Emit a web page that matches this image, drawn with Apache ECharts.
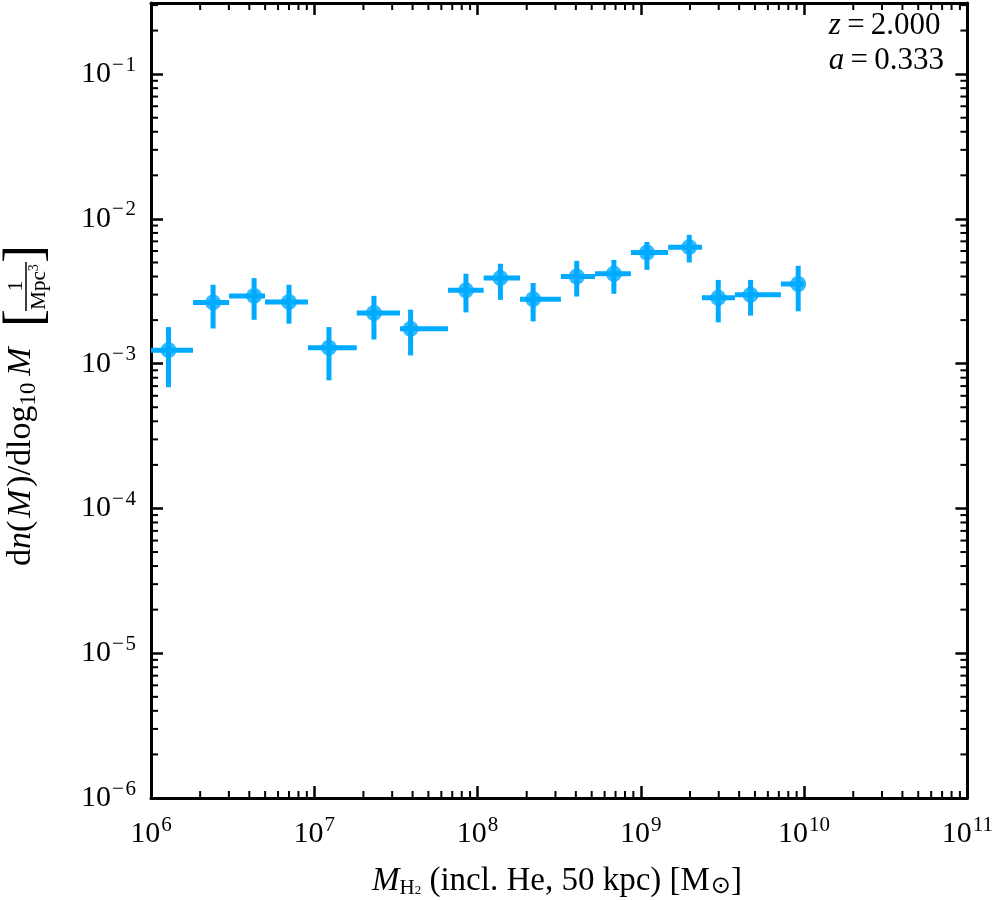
<!DOCTYPE html>
<html>
<head>
<meta charset="utf-8">
<script src="https://cdn.jsdelivr.net/npm/echarts@6/dist/echarts.min.js"></script>
<style>
html, body { margin: 0; padding: 0; background: #fff; }
#chart { width: 996px; height: 900px; }
</style>
</head>
<body>
<div id="chart"></div>
<script>
// molecular gas mass function, z = 2
// mass of each point (Msun) and the edges of its bin
let massMid = [1.28e6, 2.40e6, 4.28e6, 7.00e6, 1.23e7, 2.32e7, 3.89e7, 8.49e7, 1.38e8,
               2.19e8, 4.05e8, 6.84e8, 1.09e9, 1.98e9, 2.98e9, 4.70e9, 9.20e9];
let binEdges = [1.00e6, 1.81e6, 3.01e6, 4.99e6, 9.14e6, 1.82e7, 3.35e7, 6.59e7, 1.09e8,
                1.82e8, 3.24e8, 5.24e8, 8.69e8, 1.47e9, 2.37e9, 3.77e9, 7.21e9, 1.00e10];
// dn/dlog10 M [1/Mpc^3] with lower / upper error
let phi   = [1.24e-3, 2.65e-3, 2.94e-3, 2.67e-3, 1.29e-3, 2.24e-3, 1.74e-3, 3.21e-3, 3.90e-3,
             2.79e-3, 4.00e-3, 4.18e-3, 5.86e-3, 6.38e-3, 2.85e-3, 2.99e-3, 3.55e-3];
let phiLo = [6.87e-4, 1.75e-3, 2.01e-3, 1.89e-3, 7.67e-4, 1.47e-3, 1.14e-3, 2.26e-3, 2.76e-3,
             1.96e-3, 2.91e-3, 3.04e-3, 4.45e-3, 5.00e-3, 1.93e-3, 2.15e-3, 2.30e-3];
let phiHi = [1.79e-3, 3.51e-3, 3.90e-3, 3.51e-3, 1.79e-3, 2.94e-3, 2.36e-3, 4.18e-3, 4.90e-3,
             3.61e-3, 5.13e-3, 5.21e-3, 6.93e-3, 7.76e-3, 3.79e-3, 3.79e-3, 4.74e-3];

let xDecades = [6, 7, 8, 9, 10];
let yDecades = [-6, -5, -4, -3, -2, -1];
let minorMult = [2, 3, 4, 5, 6, 7, 8, 9];

let xMin = 1e6, xMax = 1e11, yMin = 1e-6, yMax = 0.31;
let blue = '#00aaff';
let serif = '"Liberation Serif", "DejaVu Serif", serif';

let errData = massMid.map(function (m, i) {
    return [m, phi[i], binEdges[i], binEdges[i + 1], phiLo[i], phiHi[i]];
});
let pointData = massMid.map(function (m, i) { return [m, phi[i]]; });

let xMinor = [];
xDecades.forEach(function (d) {
    minorMult.forEach(function (k) { xMinor.push([k * Math.pow(10, d), yMin]); });
});
let yMinor = [];
yDecades.forEach(function (d) {
    minorMult.forEach(function (k) {
        let v = k * Math.pow(10, d);
        if (v < yMax) yMinor.push([xMin, v]);
    });
});

function powLabel(v) {
    let lg = Math.log10(v);
    let p = Math.round(lg);
    if (Math.abs(lg - p) > 1e-6) return '';
    return '{b|10}{e|' + (p < 0 ? '\u2212\u200a' + (-p) : p) + '}';
}

let labelRich = {
    b: { fontSize: 30, fontFamily: serif, color: '#000' },
    e: { fontSize: 21, fontFamily: serif, color: '#000', padding: [0, 0, 18, 1] }
};

function makeAxis(pos, min, max, showLabel, margin) {
    return {
        type: 'log',
        logBase: 10,
        position: pos,
        min: min,
        max: max,
        splitNumber: 6,
        axisLine: { show: true, onZero: false, lineStyle: { color: '#000', width: 3 } },
        axisTick: { show: true, inside: true, length: 12, lineStyle: { color: '#000', width: 2.5 } },
        splitLine: { show: false },
        axisLabel: {
            show: showLabel,
            formatter: powLabel,
            rich: labelRich,
            margin: margin
        }
    };
}

function renderErr(params, api) {
    let y = api.value(1);
    let xc = api.value(0);
    let l = api.coord([api.value(2), y]);
    let r = api.coord([api.value(3), y]);
    let b = api.coord([xc, api.value(4)]);
    let t = api.coord([xc, api.value(5)]);
    let st = { stroke: blue, lineWidth: 5, lineCap: 'butt' };
    return {
        type: 'group',
        children: [
            { type: 'line', shape: { x1: l[0], y1: l[1], x2: r[0], y2: r[1] }, style: st },
            { type: 'line', shape: { x1: b[0], y1: b[1], x2: t[0], y2: t[1] }, style: st }
        ]
    };
}

// minor ticks on all four sides of the frame
function renderXMinor(params, api) {
    let p = api.coord([api.value(0), api.value(1)]);
    let cs = params.coordSys;
    let st = { stroke: '#000', lineWidth: 2 };
    return {
        type: 'group',
        children: [
            { type: 'line', shape: { x1: p[0], y1: cs.y + cs.height, x2: p[0], y2: cs.y + cs.height - 7 }, style: st },
            { type: 'line', shape: { x1: p[0], y1: cs.y, x2: p[0], y2: cs.y + 7 }, style: st }
        ]
    };
}
function renderYMinor(params, api) {
    let p = api.coord([api.value(0), api.value(1)]);
    let cs = params.coordSys;
    let st = { stroke: '#000', lineWidth: 2 };
    return {
        type: 'group',
        children: [
            { type: 'line', shape: { x1: cs.x, y1: p[1], x2: cs.x + 7, y2: p[1] }, style: st },
            { type: 'line', shape: { x1: cs.x + cs.width, y1: p[1], x2: cs.x + cs.width - 7, y2: p[1] }, style: st }
        ]
    };
}

let chart = echarts.init(document.getElementById('chart'));

let option = {
    animation: false,
    backgroundColor: '#fff',
    grid: { left: 151, right: 28, top: 3, bottom: 102, containLabel: false },
    xAxis: [makeAxis('bottom', xMin, xMax, true, 17), makeAxis('top', xMin, xMax, false, 8)],
    yAxis: [makeAxis('left', yMin, yMax, true, 15), makeAxis('right', yMin, yMax, false, 8)],
    series: [
        { type: 'custom', renderItem: renderXMinor, data: xMinor, clip: false, silent: true, z: 1 },
        { type: 'custom', renderItem: renderYMinor, data: yMinor, clip: false, silent: true, z: 1 },
        { type: 'custom', renderItem: renderErr, data: errData, encode: { x: 0, y: 1 }, z: 3 },
        {
            type: 'scatter', data: pointData, symbol: 'circle', symbolSize: 16,
            itemStyle: { color: blue }, z: 4
        }
    ],
    graphic: [
        {
            type: 'text', right: 52, top: 10,
            style: {
                text: '{i|z}{n|\u2009=\u20092.000}\n{i|a}{n|\u2009=\u20090.333}',
                align: 'right',
                rich: {
                    i: { fontSize: 31, fontFamily: serif, fontStyle: 'italic', lineHeight: 35 },
                    n: { fontSize: 31, fontFamily: serif, lineHeight: 35 }
                }
            }
        },
        {
            type: 'text', x: 557, y: 881,
            style: {
                text: '{i|M}{s|H}{ss|2}{n| (incl. He, 50 kpc) [M}{o|\u2299}{n|]}',
                align: 'center', verticalAlign: 'middle',
                rich: {
                    i: { fontSize: 33, fontFamily: serif, fontStyle: 'italic' },
                    n: { fontSize: 33, fontFamily: serif },
                    s: { fontSize: 21, fontFamily: serif, padding: [14, 0, 0, 0] },
                    ss: { fontSize: 13, fontFamily: serif, padding: [20, 0, 0, 0] },
                    o: { fontSize: 24, fontFamily: '"DejaVu Sans", sans-serif', padding: [12, 0, 0, 1] }
                }
            }
        },
        {
            type: 'group', x: 24, y: 409, rotation: Math.PI / 2,
            children: [
                {
                    type: 'text', x: -157, y: -3,
                    style: {
                        text: 'd{i|n}(\u200a{i|M}\u200a)/dlog{s|10}{i|\u2009M}',
                        fontSize: 34, fontFamily: serif, verticalAlign: 'middle',
                        rich: {
                            i: { fontSize: 34, fontFamily: serif, fontStyle: 'italic' },
                            s: { fontSize: 23, fontFamily: serif, padding: [15, 0, 0, 0] }
                        }
                    }
                },
                {
                    type: 'text', x: 91, y: 3,
                    style: { text: '[', fontSize: 54, fontFamily: serif, align: 'center', verticalAlign: 'middle' }
                },
                {
                    type: 'text', x: 123, y: -8,
                    style: { text: '1', fontSize: 21, fontFamily: serif, align: 'center', verticalAlign: 'middle' }
                },
                {
                    type: 'line', shape: { x1: 98, y1: 2, x2: 147, y2: 2 },
                    style: { stroke: '#000', lineWidth: 1.5 }
                },
                {
                    type: 'text', x: 122, y: 15,
                    style: {
                        text: 'Mpc{e|3}', fontSize: 21, fontFamily: serif, align: 'center', verticalAlign: 'middle',
                        rich: { e: { fontSize: 14, fontFamily: serif, padding: [0, 0, 10, 0] } }
                    }
                },
                {
                    type: 'text', x: 155, y: 3,
                    style: { text: ']', fontSize: 54, fontFamily: serif, align: 'center', verticalAlign: 'middle' }
                }
            ]
        }
    ]
};

chart.setOption(option);
</script>
</body>
</html>
